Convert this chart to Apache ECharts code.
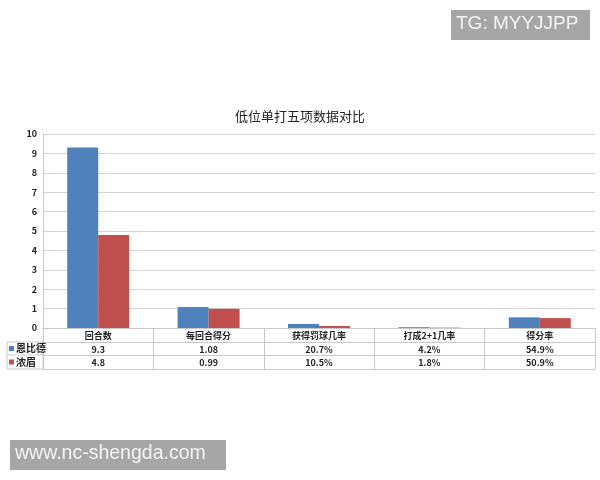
<!DOCTYPE html>
<html><head><meta charset="utf-8">
<script src="https://cdn.jsdelivr.net/npm/echarts@6/dist/echarts.min.js"></script>
<style>html,body{margin:0;padding:0;background:#fff}#c{width:600px;height:480px}</style>
</head><body><div id="c"></div>
<script>
const categories = ['回合数','每回合得分','获得罚球几率','打成2+1几率','得分率'];
const seriesNames = ['恩比德','浓眉'];
const embiid = [9.3, 1.08, 0.207, 0.042, 0.549];
const davis = [4.8, 0.99, 0.105, 0.018, 0.509];
const pctCats = [false, false, true, true, true];
const yTicks = {min: 0, max: 10, interval: 1};

const fmt = (v, i) => pctCats[i] ? (v * 100).toFixed(1) + '%' : String(v);
const embiidLabels = embiid.map(fmt);
const davisLabels = davis.map(fmt);

const grey = '#c8c8c8';
const font = '"Noto Sans CJK SC", "Noto Sans", sans-serif';
const lbl = {fontSize: 9, fontWeight: 'bold', color: '#222', fontFamily: font};

const chart = echarts.init(document.getElementById('c'));
chart.setOption({
  animation: false,
  backgroundColor: '#fff',
  title: {text: '低位单打五项数据对比', left: 'center', top: 105,
    textStyle: {fontSize: 13, fontWeight: 'normal', color: '#222', fontFamily: font}},
  legend: {orient: 'vertical', left: 9, top: 342, padding: 0, itemWidth: 5, itemHeight: 5, itemGap: 0.5,
    icon: 'rect', selectedMode: false,
    textStyle: {fontSize: 10, fontWeight: 'bold', color: '#222', fontFamily: font, lineHeight: 13, padding: [0,0,0,-3]},
    data: seriesNames},
  grid: {left: 43, right: 5, top: 134, bottom: 152},
  yAxis: {type: 'value', min: yTicks.min, max: yTicks.max, interval: yTicks.interval,
    axisLine: {show: true, lineStyle: {color: grey}}, axisTick: {show: false},
    axisLabel: Object.assign({margin: 6}, lbl),
    splitLine: {lineStyle: {color: '#d4d4d4'}}},
  xAxis: [
    {type: 'category', data: categories, position: 'bottom',
      axisLine: {lineStyle: {color: grey}},
      axisTick: {show: true, length: 41, interval: 0, lineStyle: {color: grey}},
      axisLabel: Object.assign({margin: 3, interval: 0}, lbl)},
    {type: 'category', data: embiidLabels, position: 'bottom', offset: 14,
      axisLine: {show: true, lineStyle: {color: grey}}, axisTick: {show: false},
      axisLabel: Object.assign({margin: 3, interval: 0}, lbl)},
    {type: 'category', data: davisLabels, position: 'bottom', offset: 27,
      axisLine: {show: true, lineStyle: {color: grey}}, axisTick: {show: false},
      axisLabel: Object.assign({margin: 3, interval: 0}, lbl)},
    {type: 'category', data: categories, position: 'bottom', offset: 41,
      axisLine: {show: true, lineStyle: {color: grey}}, axisTick: {show: false},
      axisLabel: {show: false}}
  ],
  series: [
    {name: seriesNames[0], type: 'bar', xAxisIndex: 0, data: embiid, barWidth: 31, barGap: '0%',
      itemStyle: {color: '#4f81bd'}},
    {name: seriesNames[1], type: 'bar', xAxisIndex: 0, data: davis, barWidth: 31, barGap: '0%',
      itemStyle: {color: '#c0504d'}}
  ],
  graphic: [
    {type: 'rect', shape: {x: 7, y: 342, width: 36, height: 27}, style: {fill: 'none', stroke: grey, lineWidth: 1}},
    {type: 'line', shape: {x1: 7, y1: 355, x2: 43, y2: 355}, style: {stroke: grey, lineWidth: 1}},
    {type: 'rect', shape: {x: 451, y: 10, width: 139, height: 30}, style: {fill: '#a6a6a6'}},
    {type: 'text', left: 456, top: 14, style: {text: 'TG: MYYJJPP', fill: '#f4f4f4', fontSize: 19, fontFamily: 'Liberation Sans, sans-serif'}},
    {type: 'rect', shape: {x: 10, y: 440, width: 216, height: 30}, style: {fill: '#a6a6a6'}},
    {type: 'text', left: 15, top: 444, style: {text: 'www.nc-shengda.com', fill: '#f4f4f4', fontSize: 19.5, fontFamily: 'Liberation Sans, sans-serif'}}
  ]
});
</script></body></html>
